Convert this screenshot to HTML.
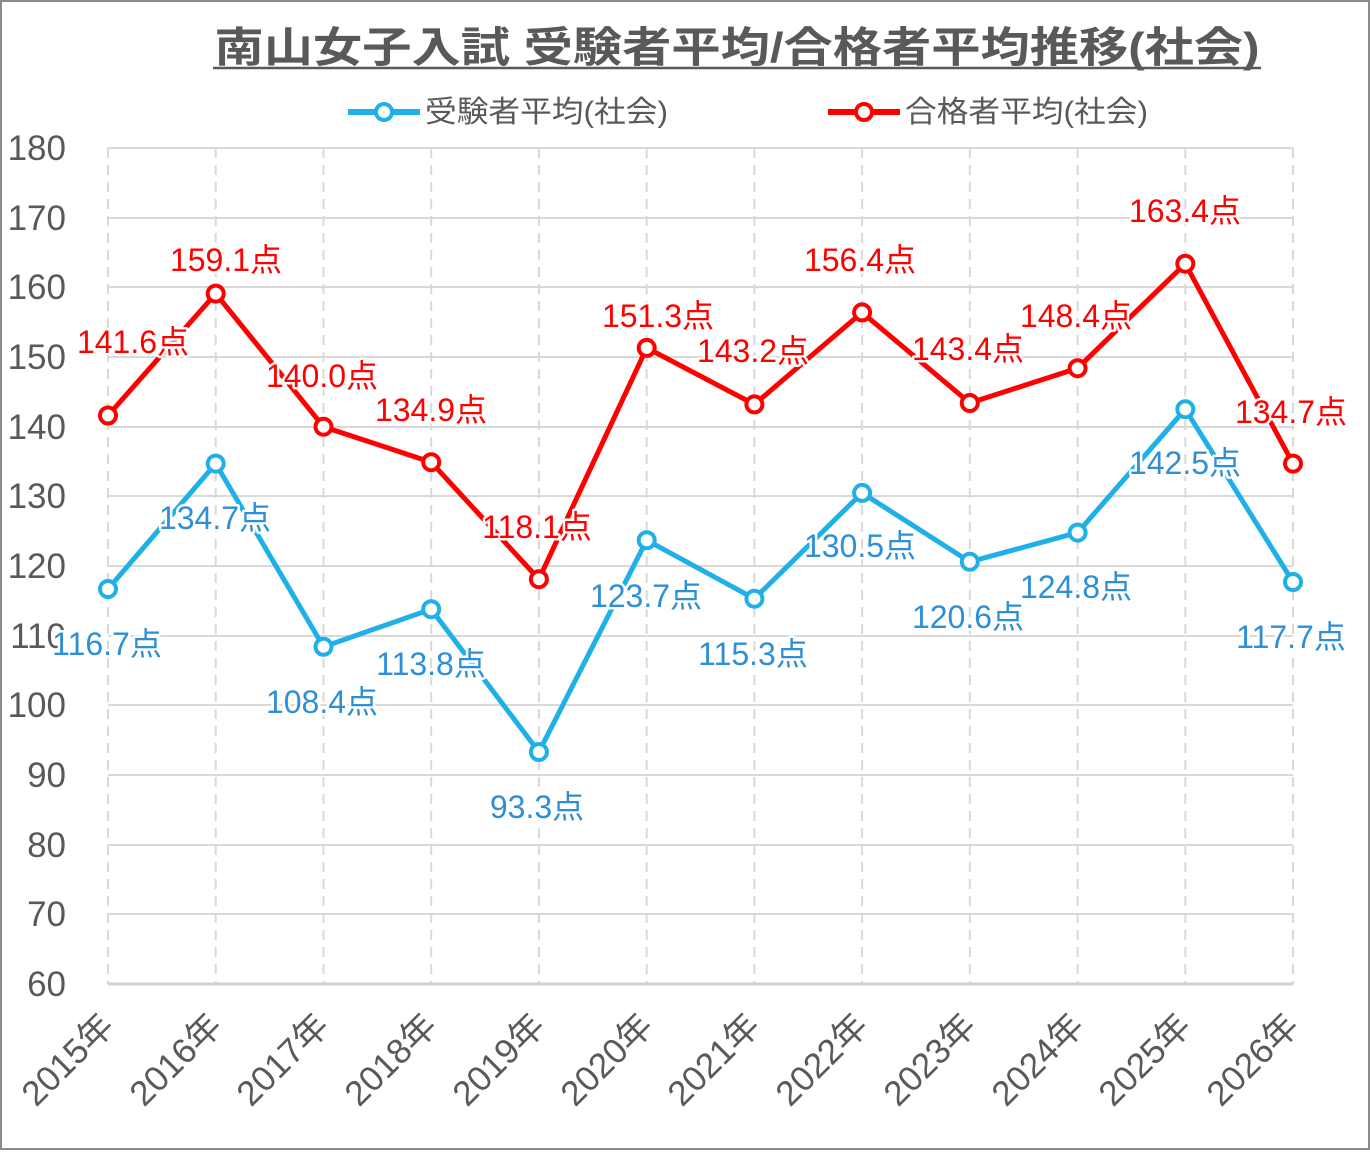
<!DOCTYPE html>
<html><head><meta charset="utf-8"><style>
body{margin:0;background:#fff}
svg text{font-family:"Liberation Sans","Noto Sans CJK JP",sans-serif}
.lb{font-size:32px;paint-order:stroke;stroke:#fff;stroke-width:5px;stroke-linejoin:round;text-anchor:middle}
.r{fill:#ff0000}.b{fill:#2e8fd6}
.yt{font-size:35px;fill:#595959;text-anchor:end}
.xt{font-size:35px;fill:#595959;text-anchor:end}
</style></head><body>
<svg width="1370" height="1150" xmlns="http://www.w3.org/2000/svg">
<rect x="1" y="1" width="1368" height="1148" fill="#fff" stroke="#8a8a8a" stroke-width="2"/>
<text x="737" y="62" font-size="42" font-weight="bold" fill="#595959" text-anchor="middle" textLength="1045" lengthAdjust="spacingAndGlyphs">南山女子入試 受験者平均/合格者平均推移(社会)</text>
<line x1="213" y1="68" x2="1261" y2="68" stroke="#595959" stroke-width="2.5"/>
<line x1="348" y1="112" x2="420" y2="112" stroke="#1fb0e8" stroke-width="6"/>
<circle cx="384" cy="112" r="8" fill="#fff" stroke="#1fb0e8" stroke-width="4"/>
<text x="425" y="122" font-size="30" fill="#595959" textLength="243" lengthAdjust="spacingAndGlyphs">受験者平均(社会)</text>
<line x1="828" y1="112" x2="900" y2="112" stroke="#ff0000" stroke-width="6"/>
<circle cx="864" cy="112" r="8" fill="#fff" stroke="#ff0000" stroke-width="4"/>
<text x="905" y="122" font-size="30" fill="#595959" textLength="243" lengthAdjust="spacingAndGlyphs">合格者平均(社会)</text>
<g stroke="#d9d9d9" stroke-width="2">
<line x1="108" y1="148" x2="1293" y2="148"/><line x1="108" y1="218" x2="1293" y2="218"/><line x1="108" y1="287" x2="1293" y2="287"/><line x1="108" y1="357" x2="1293" y2="357"/><line x1="108" y1="427" x2="1293" y2="427"/><line x1="108" y1="496" x2="1293" y2="496"/><line x1="108" y1="566" x2="1293" y2="566"/><line x1="108" y1="636" x2="1293" y2="636"/><line x1="108" y1="705" x2="1293" y2="705"/><line x1="108" y1="775" x2="1293" y2="775"/><line x1="108" y1="845" x2="1293" y2="845"/><line x1="108" y1="914" x2="1293" y2="914"/>
</g>
<g stroke="#d9d9d9" stroke-width="2" stroke-dasharray="10,7">
<line x1="108" y1="148" x2="108" y2="984"/><line x1="215.7" y1="148" x2="215.7" y2="984"/><line x1="323.5" y1="148" x2="323.5" y2="984"/><line x1="431.2" y1="148" x2="431.2" y2="984"/><line x1="538.9" y1="148" x2="538.9" y2="984"/><line x1="646.7" y1="148" x2="646.7" y2="984"/><line x1="754.4" y1="148" x2="754.4" y2="984"/><line x1="862.1" y1="148" x2="862.1" y2="984"/><line x1="969.8" y1="148" x2="969.8" y2="984"/><line x1="1077.6" y1="148" x2="1077.6" y2="984"/><line x1="1185.3" y1="148" x2="1185.3" y2="984"/><line x1="1293" y1="148" x2="1293" y2="984"/>
</g>
<line x1="108" y1="984" x2="1293" y2="984" stroke="#d0d0d0" stroke-width="3"/>
<g class="yt">
<text x="66" y="160">180</text><text x="66" y="230">170</text><text x="66" y="299">160</text><text x="66" y="369">150</text><text x="66" y="439">140</text><text x="66" y="508">130</text><text x="66" y="578">120</text><text x="66" y="648">110</text><text x="66" y="717">100</text><text x="66" y="787">90</text><text x="66" y="857">80</text><text x="66" y="926">70</text><text x="66" y="996">60</text>
</g>
<g class="xt">
<text transform="translate(116,1028) rotate(-45)">2015年</text>
<text transform="translate(224,1028) rotate(-45)">2016年</text>
<text transform="translate(331,1028) rotate(-45)">2017年</text>
<text transform="translate(439,1028) rotate(-45)">2018年</text>
<text transform="translate(547,1028) rotate(-45)">2019年</text>
<text transform="translate(655,1028) rotate(-45)">2020年</text>
<text transform="translate(762,1028) rotate(-45)">2021年</text>
<text transform="translate(870,1028) rotate(-45)">2022年</text>
<text transform="translate(978,1028) rotate(-45)">2023年</text>
<text transform="translate(1086,1028) rotate(-45)">2024年</text>
<text transform="translate(1193,1028) rotate(-45)">2025年</text>
<text transform="translate(1301,1028) rotate(-45)">2026年</text>
</g>
<polyline fill="none" stroke="#1fb0e8" stroke-width="5" stroke-linejoin="round" points="108,589 215.7,463.6 323.5,646.8 431.2,609.2 538.9,752 646.7,540.2 754.4,598.7 862.1,492.9 969.8,561.8 1077.6,532.6 1185.3,409.2 1293,582"/>
<polyline fill="none" stroke="#ff0000" stroke-width="5" stroke-linejoin="round" points="108,415.5 215.7,293.6 323.5,426.7 431.2,462.2 538.9,579.2 646.7,347.9 754.4,404.4 862.1,312.4 969.8,403 1077.6,368.2 1185.3,263.7 1293,463.6"/>
<g fill="#fff" stroke="#1fb0e8" stroke-width="4">
<circle cx="108" cy="589" r="8"/><circle cx="215.7" cy="463.6" r="8"/><circle cx="323.5" cy="646.8" r="8"/><circle cx="431.2" cy="609.2" r="8"/><circle cx="538.9" cy="752" r="8"/><circle cx="646.7" cy="540.2" r="8"/><circle cx="754.4" cy="598.7" r="8"/><circle cx="862.1" cy="492.9" r="8"/><circle cx="969.8" cy="561.8" r="8"/><circle cx="1077.6" cy="532.6" r="8"/><circle cx="1185.3" cy="409.2" r="8"/><circle cx="1293" cy="582" r="8"/>
</g>
<g fill="#fff" stroke="#ff0000" stroke-width="4">
<circle cx="108" cy="415.5" r="8"/><circle cx="215.7" cy="293.6" r="8"/><circle cx="323.5" cy="426.7" r="8"/><circle cx="431.2" cy="462.2" r="8"/><circle cx="538.9" cy="579.2" r="8"/><circle cx="646.7" cy="347.9" r="8"/><circle cx="754.4" cy="404.4" r="8"/><circle cx="862.1" cy="312.4" r="8"/><circle cx="969.8" cy="403" r="8"/><circle cx="1077.6" cy="368.2" r="8"/><circle cx="1185.3" cy="263.7" r="8"/><circle cx="1293" cy="463.6" r="8"/>
</g>
<g class="lb r">
<text x="133" y="353">141.6点</text><text x="226" y="271">159.1点</text><text x="322" y="387">140.0点</text><text x="431" y="421">134.9点</text><text x="537" y="538">118.1点</text><text x="658" y="327">151.3点</text><text x="753" y="362">143.2点</text><text x="860" y="271">156.4点</text><text x="968" y="360">143.4点</text><text x="1076" y="327">148.4点</text><text x="1185" y="222">163.4点</text><text x="1291" y="423">134.7点</text>
</g>
<g class="lb b">
<text x="107" y="655">116.7点</text><text x="215" y="529">134.7点</text><text x="322" y="713">108.4点</text><text x="431" y="675">113.8点</text><text x="537" y="818">93.3点</text><text x="646" y="607">123.7点</text><text x="753" y="665">115.3点</text><text x="860" y="557">130.5点</text><text x="968" y="628">120.6点</text><text x="1076" y="598">124.8点</text><text x="1185" y="474">142.5点</text><text x="1291" y="648">117.7点</text>
</g>
</svg>
</body></html>
